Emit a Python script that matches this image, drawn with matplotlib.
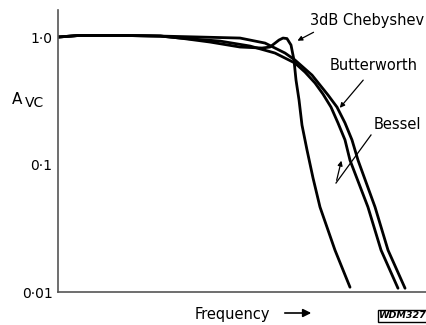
"""
Filter response comparison: Chebyshev, Butterworth, Bessel
"""
import numpy as np
import matplotlib.pyplot as plt

# relative frequency (f/fc) and voltage gain
cheb_f = [0.01, 0.015, 0.032, 0.068, 0.098, 0.172, 0.302, 0.456, 0.529, 0.626,
          0.675, 0.727, 0.784, 0.829, 0.861, 0.911, 0.963, 1.058, 1.184, 1.349,
          1.786, 2.366]
cheb_a = [1.0, 1.03, 1.03, 1.018, 0.982, 0.914, 0.835, 0.820, 0.835, 0.947,
          0.982, 0.973, 0.866, 0.660, 0.460, 0.321, 0.204, 0.130, 0.0784, 0.0464,
          0.0213, 0.0109]

butter_f = [0.01, 0.015, 0.032, 0.068, 0.143, 0.302, 0.482, 0.701, 0.845, 1.162,
            1.567, 1.855, 2.154, 2.455, 2.75, 3.78, 4.82, 6.63]
butter_a = [1.0, 1.03, 1.03, 1.018, 1.0, 0.982, 0.897, 0.749, 0.660, 0.503,
            0.351, 0.282, 0.212, 0.156, 0.108, 0.0464, 0.0213, 0.0107]

bessel_f = [0.01, 0.015, 0.032, 0.068, 0.098, 0.2075, 0.364, 0.581, 0.845, 1.019,
            1.229, 1.427, 1.658, 1.889, 2.154, 2.366, 3.31, 4.23, 5.81]
bessel_a = [1.0, 1.03, 1.03, 1.018, 0.982, 0.930, 0.850, 0.749, 0.625, 0.531,
            0.436, 0.357, 0.282, 0.212, 0.156, 0.108, 0.0464, 0.0213, 0.0107]

ytick_vals = [1.0, 0.1, 0.01]
ytick_labels = ['1\u00b70', '0\u00b71', '0\u00b701']

W, H = 427, 325
fig = plt.figure(figsize=(W / 100, H / 100), dpi=100)
ax = fig.add_axes([58 / W, (H - 292) / H, (W - 58) / W, (292 - 10) / H])


def px(x, y):
    # figure pixel position -> figure fraction
    return x / W, 1 - y / H


ax.set_xscale('log')
ax.set_yscale('log')
ax.set_xlim(0.01, 10)
ax.set_ylim(0.01, 1.63)

for f, a in [(cheb_f, cheb_a), (butter_f, butter_a), (bessel_f, bessel_a)]:
    ax.plot(f, a, color='black', lw=2, solid_capstyle='round',
            solid_joinstyle='round')

for s in ['top', 'right']:
    ax.spines[s].set_visible(False)
for s in ['left', 'bottom']:
    ax.spines[s].set_color('#555555')
    ax.spines[s].set_linewidth(1.2)

ax.set_xticks([])
ax.set_yticks(ytick_vals)
ax.set_yticklabels(ytick_labels, fontsize=10)
ax.tick_params(axis='y', length=0, pad=4)
ax.yaxis.set_minor_locator(plt.NullLocator())
ax.xaxis.set_minor_locator(plt.NullLocator())

# axis label A_VC
fig.text(*px(12, 99), 'A', fontsize=11, ha='left', va='center')
fig.text(*px(25, 103), 'VC', fontsize=10, ha='left', va='center')

# curve labels with leader lines
arrow = dict(arrowstyle='-|>', color='black', lw=0.9, mutation_scale=7)
fig.text(*px(310, 21), '3dB Chebyshev', fontsize=10.5, ha='left', va='center')
ax.annotate('', xy=px(295, 42), xycoords='figure fraction',
            xytext=px(316, 31), textcoords='figure fraction', arrowprops=arrow)

fig.text(*px(330, 66), 'Butterworth', fontsize=10.5, ha='left', va='center')
ax.annotate('', xy=px(338, 110), xycoords='figure fraction',
            xytext=px(365, 78), textcoords='figure fraction', arrowprops=arrow)

fig.text(*px(374, 124), 'Bessel', fontsize=10.5, ha='left', va='center')
fig.add_artist(plt.Line2D([371 / W, 336 / W], [1 - 135 / H, 1 - 183 / H],
                          color='black', lw=0.9))
ax.annotate('', xy=px(342, 158), xycoords='figure fraction',
            xytext=px(336, 183), textcoords='figure fraction', arrowprops=arrow)

# frequency label and arrow
fig.text(*px(195, 314), 'Frequency', fontsize=10.5, ha='left', va='center')
ax.annotate('', xy=px(314, 313), xycoords='figure fraction',
            xytext=px(282, 313), textcoords='figure fraction',
            arrowprops=dict(arrowstyle='-|>', color='black', lw=1.2, mutation_scale=12))

fig.text(*px(379, 316), 'WDM327', fontsize=6.8, style='italic', weight='bold',
         ha='left', va='center',
         bbox=dict(boxstyle='square,pad=0.15', fc='white', ec='black', lw=1))

fig.savefig('out.png', dpi=100)
